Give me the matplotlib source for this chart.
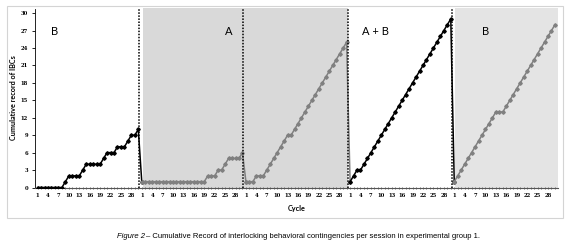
import numpy as np
import matplotlib
matplotlib.use("Agg")
import matplotlib.pyplot as plt
from matplotlib.patches import Rectangle

# cumulative IBCs per cycle, one list per phase
phase_labels = ["B", "A", "A", "A + B", "B"]
b_first = [0, 0, 0, 0, 0, 0, 0, 0, 1, 2, 2, 2, 2, 3, 4, 4, 4, 4, 4, 5,
           6, 6, 6, 7, 7, 7, 8, 9, 9, 10]
a_first = [1, 1, 1, 1, 1, 1, 1, 1, 1, 1, 1, 1, 1, 1, 1, 1, 1, 1, 1, 2,
           2, 2, 3, 3, 4, 5, 5, 5, 5, 6]
a_second = [1, 1, 1, 2, 2, 2, 3, 4, 5, 6, 7, 8, 9, 9, 10, 11, 12, 13, 14, 15,
            16, 17, 18, 19, 20, 21, 22, 23, 24, 25]
a_plus_b = [1, 2, 3, 3, 4, 5, 6, 7, 8, 9, 10, 11, 12, 13, 14, 15, 16, 17, 18, 19,
            20, 21, 22, 23, 24, 25, 26, 27, 28, 29]
b_second = [1, 2, 3, 4, 5, 6, 7, 8, 9, 10, 11, 12, 13, 13, 13, 14, 15, 16, 17, 18,
            19, 20, 21, 22, 23, 24, 25, 26, 27, 28]
phases = [b_first, a_first, a_second, a_plus_b, b_second]
phase_colors = ["#000000", "#808080", "#808080", "#000000", "#808080"]
cycle_ticks = [1, 4, 7, 10, 13, 16, 19, 22, 25, 28]
y_ticks = [0, 3, 6, 9, 12, 15, 18, 21, 24, 27, 30]

fig = plt.figure(figsize=(5.7, 2.47), dpi=100)
ax = fig.add_axes([35 / 570, 59.5 / 247, 522.7 / 570, 179 / 247])

# shaded backgrounds
ax.axvspan(31.3, 90.3, color="#d9d9d9", lw=0, zorder=0)
ax.axvspan(121.3, 150.8, color="#e4e4e4", lw=0, zorder=0)

values = np.concatenate(phases)
x = np.arange(1, len(values) + 1)
start = 0
for i, (data, col) in enumerate(zip(phases, phase_colors)):
    end = start + len(data)
    stop = end + 1 if i < len(phases) - 1 else end
    ax.plot(x[start:stop], values[start:stop], color=col, lw=1.1,
            marker="D", markersize=1.8, zorder=3)
    if i < len(phases) - 1:
        ax.axvline(end + 0.3, color="black", ls=(0, (1, 1)), lw=1.1, zorder=4)
    start = end

label_pos = [(6.0, "B"), (56.1, "A"), (98.3, "A + B"), (130.1, "B")]
for xp, txt in label_pos:
    ax.text(xp, 26.9, txt, fontsize=8, family="Lato", ha="center", va="center")

ax.set_xlim(0.25, 150.8)
ax.set_ylim(0, 30.8)

tick_pos = []
tick_lab = []
for k in range(len(phases)):
    for t in cycle_ticks:
        tick_pos.append(k * 30 + t)
        tick_lab.append(str(t))
ax.set_xticks(tick_pos)
ax.set_xticklabels(tick_lab, fontsize=3.8, fontweight="bold", family="DejaVu Serif")
ax.set_xticks(x, minor=True)
ax.tick_params(axis="x", which="both", length=2, width=0.6, color="#555555",
               direction="inout", pad=3)
ax.set_yticks(y_ticks)
ax.set_yticklabels([str(v) for v in y_ticks], fontsize=3.8, fontweight="bold",
                   family="DejaVu Serif")
ax.tick_params(axis="y", length=2, width=0.6, pad=3)

for s in ["top", "right"]:
    ax.spines[s].set_visible(False)
ax.spines["bottom"].set_linestyle((0, (1, 1)))
ax.spines["bottom"].set_color("#555555")
ax.spines["bottom"].set_linewidth(0.8)
ax.spines["left"].set_linewidth(0.6)

ax.set_ylabel("Cumulative record of IBCs", fontsize=5.2, fontweight="bold",
              family="Lato", labelpad=3)
ax.set_xlabel("Cycle", fontsize=5.2, fontweight="bold", family="Lato", labelpad=5)

# outer frame and caption
fig.patches.append(Rectangle((7 / 570, 29 / 247), 556 / 570, 212 / 247,
                             transform=fig.transFigure, fill=False,
                             edgecolor="#d4d4d4", lw=0.8))
cap_font = ["Liberation Sans Narrow", "Liberation Sans"]
cap_y = 11 / 247
t1 = fig.text(117 / 570, cap_y, "Figure 2", fontsize=5.5, style="italic",
              family=cap_font, va="center", ha="left")
renderer = fig.canvas.get_renderer()
bb = t1.get_window_extent(renderer)
fig.text((bb.x1 + 1.5) / 570, cap_y,
         "– Cumulative Record of interlocking behavioral contingencies per session in experimental group 1.",
         fontsize=5.5, family=cap_font, va="center", ha="left")

fig.savefig("out.png", dpi=100)
